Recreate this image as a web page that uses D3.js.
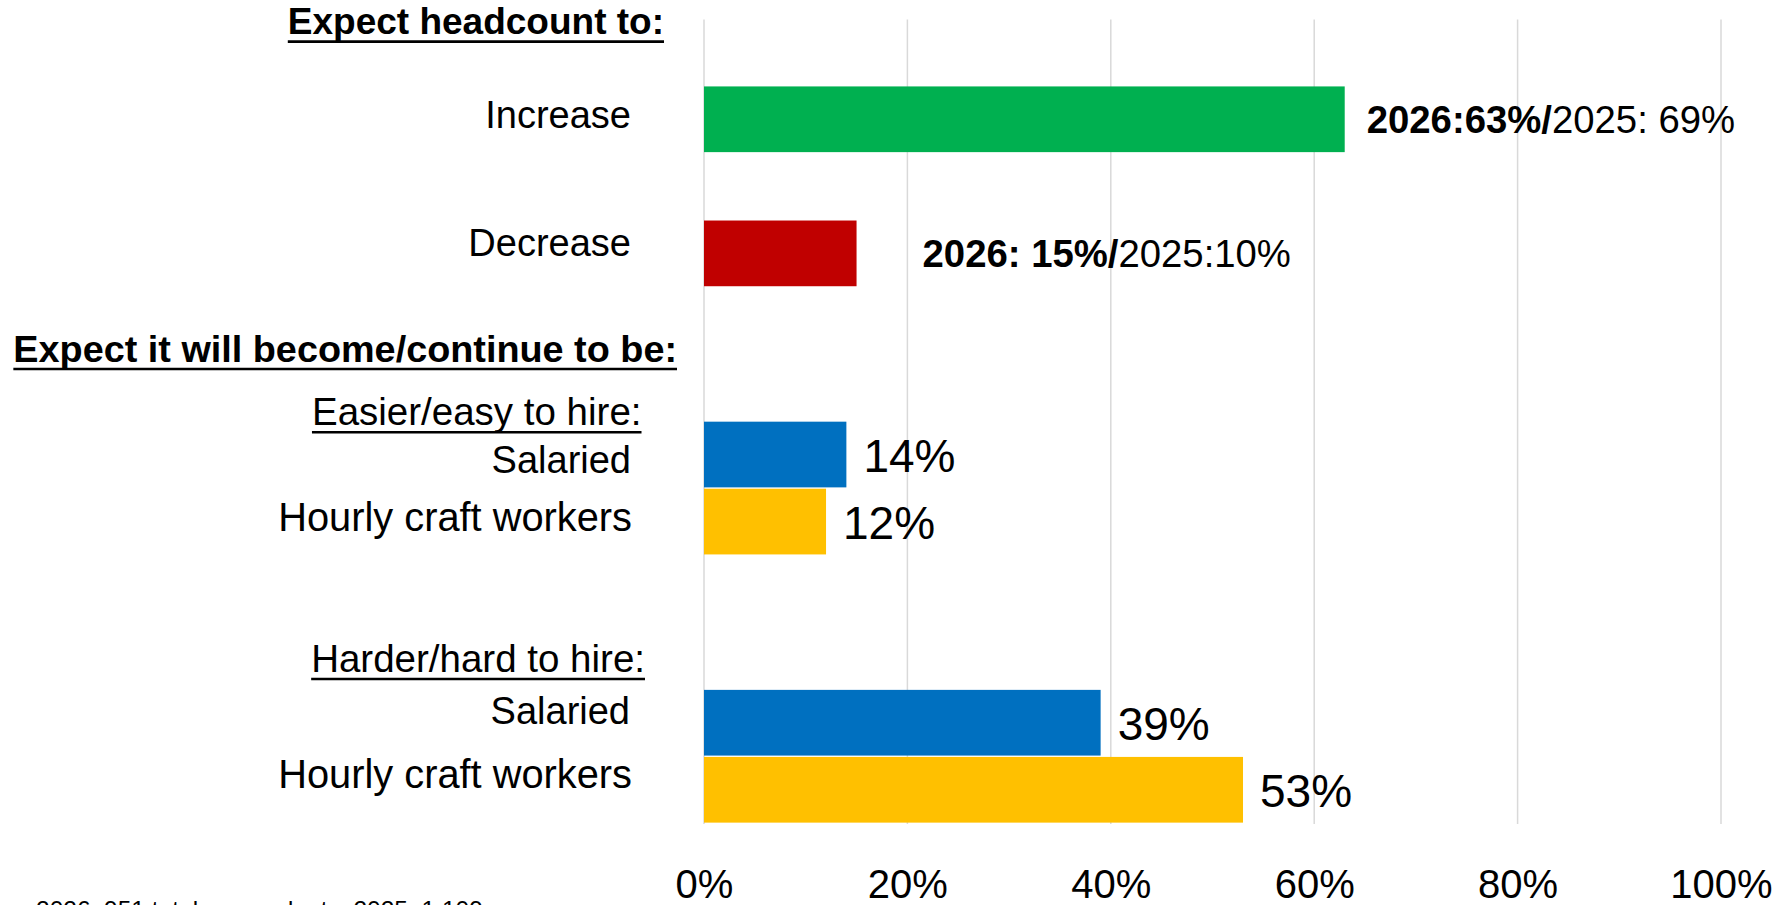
<!DOCTYPE html>
<html>
<head>
<meta charset="utf-8">
<script src="https://cdn.jsdelivr.net/npm/d3@7/dist/d3.min.js"></script>
<style>
  html, body { margin: 0; padding: 0; background: #ffffff; }
  svg { display: block; }
  text { font-family: "Liberation Sans", Arial, sans-serif; fill: #000; }
</style>
</head>
<body>
<script>
// ---------------- data ----------------
const sectionHeaders = ["Expect headcount to:", "Expect it will become/continue to be:"];
const headcountCategories = ["Increase", "Decrease"];
const headcount2026 = [0.63, 0.15];
const headcount2025 = [0.69, 0.10];
const headcountLabelBold = ["2026:63%/", "2026: 15%/"];
const headcountLabelPlain = ["2025: 69%", "2025:10%"];
const hireGroups = ["Easier/easy to hire:", "Harder/hard to hire:"];
const workerTypes = ["Salaried", "Hourly craft workers"];
const easierValues = [0.14, 0.12];
const harderValues = [0.39, 0.53];
const xTickValues = [0, 0.2, 0.4, 0.6, 0.8, 1.0];
const footnote = "2026: 951 total respondents; 2025: 1,109";

// ---------------- layout ----------------
const W = 1790, H = 905;
const colors = { increase: "#00B050", decrease: "#C00000", salaried: "#0070C0", hourly: "#FFC000", grid: "#D9D9D9" };
// slot of each bar row in the 12-slot band layout
const headcountSlots = [1, 3];
const easierSlots = [6, 7];
const harderSlots = [10, 11];

const svg = d3.select("body").append("svg").attr("width", W).attr("height", H);

const x = d3.scaleLinear().domain([0, 1]).range([704, 1721]);
const y = d3.scaleBand().domain(d3.range(12)).range([18.7, 823.3]).paddingInner(0.02).paddingOuter(0.01);
const [gy0, gy1] = [19.4, 824];

// gridlines
svg.append("g").selectAll("line").data(xTickValues).join("line")
  .attr("x1", d => x(d)).attr("x2", d => x(d))
  .attr("y1", gy0).attr("y2", gy1)
  .attr("stroke", colors.grid).attr("stroke-width", 1.5);

// x axis tick labels
const axis = d3.axisBottom(x).tickValues(xTickValues).tickFormat(d3.format(".0%")).tickSize(0).tickPadding(0);
const axG = svg.append("g").attr("transform", `translate(0, 898)`).call(axis);
axG.select(".domain").remove();
axG.selectAll("text").attr("dy", 0).attr("y", 0)
  .style("font-family", '"Liberation Sans", Arial, sans-serif')
  .style("font-size", "40px").attr("fill", "#000");

// bars
const bars = [];
headcountCategories.forEach((c, i) => bars.push({ slot: headcountSlots[i], v: headcount2026[i], color: i === 0 ? colors.increase : colors.decrease }));
workerTypes.forEach((c, i) => bars.push({ slot: easierSlots[i], v: easierValues[i], color: i === 0 ? colors.salaried : colors.hourly }));
workerTypes.forEach((c, i) => bars.push({ slot: harderSlots[i], v: harderValues[i], color: i === 0 ? colors.salaried : colors.hourly }));

svg.append("g").selectAll("rect").data(bars).join("rect")
  .attr("x", x(0)).attr("y", d => y(d.slot))
  .attr("width", d => x(d.v) - x(0)).attr("height", y.bandwidth())
  .attr("fill", d => d.color);

// value labels for hire bars
const hireBars = bars.slice(2);
svg.append("g").selectAll("text").data(hireBars).join("text")
  .attr("x", d => x(d.v) + 17)
  .attr("y", d => y(d.slot) + y.bandwidth() / 2 + 17.5)
  .style("font-size", "46px")
  .text(d => d3.format(".0%")(d.v));

// headcount labels (bold 2026 / plain 2025)
const hcOffsets = [22, 66];
headcountCategories.forEach((c, i) => {
  const t = svg.append("text")
    .attr("x", x(headcount2026[i]) + hcOffsets[i])
    .attr("y", y(headcountSlots[i]) + y.bandwidth() / 2 + 14)
    .style("font-size", "38.3px");
  t.append("tspan").style("font-weight", "bold").text(headcountLabelBold[i]);
  t.append("tspan").text(headcountLabelPlain[i]);
});

// category / header labels
function label(txt, slot, dy, xr, size, bold, underline) {
  const t = svg.append("text")
    .attr("x", xr).attr("y", y(slot) + dy)
    .attr("text-anchor", "end")
    .style("font-size", size + "px")
    .style("font-weight", bold ? "bold" : "normal")
    .text(txt);
  if (underline) {
    const b = t.node().getBBox();
    svg.append("line")
      .attr("x1", b.x).attr("x2", b.x + b.width)
      .attr("y1", y(slot) + dy + 7.3).attr("y2", y(slot) + dy + 7.3)
      .attr("stroke", "#000").attr("stroke-width", 2.6);
  }
}
label(sectionHeaders[0], 0, 15, 664, 37, true, true);
label(headcountCategories[0], 1, 41.6, 631, 38, false, false);
label(headcountCategories[1], 3, 35.2, 631, 38, false, false);
label(sectionHeaders[1], 5, 7.1, 677, 37.8, true, true);
label(hireGroups[0], 6, 3.3, 641.5, 38.5, false, true);
label(workerTypes[0], 6, 51.6, 631, 38, false, false);
label(workerTypes[1], 7, 42, 632, 39.8, false, false);
label(hireGroups[1], 9, 48.9, 645, 38.5, false, true);
label(workerTypes[0], 10, 34.1, 630, 38, false, false);
label(workerTypes[1], 11, 31.4, 632, 39.8, false, false);

// footnote (cut off at the bottom edge as in the reference)
svg.append("text").attr("x", 36).attr("y", 918).style("font-size", "24.5px").text(footnote);
</script>
</body>
</html>
